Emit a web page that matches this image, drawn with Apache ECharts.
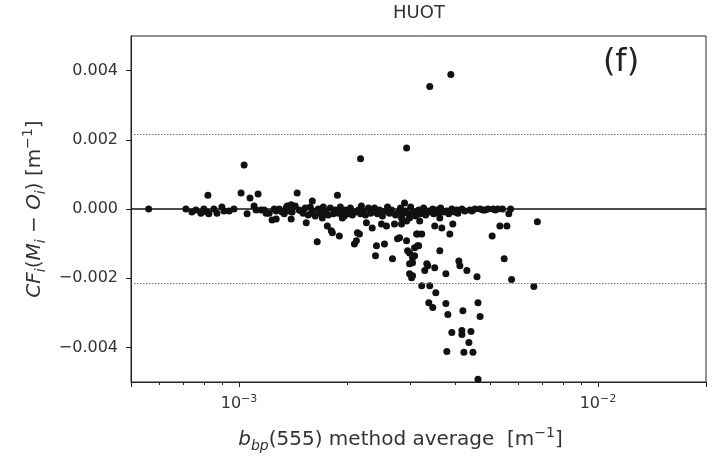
<!DOCTYPE html>
<html>
<head>
<meta charset="utf-8">
<script src="https://cdn.jsdelivr.net/npm/echarts@6/dist/echarts.min.js"></script>
<style>
  html, body { margin: 0; padding: 0; background: #fff; }
  #chart { width: 721px; height: 459px; }
</style>
</head>
<body>
<div id="chart"></div>
<script>
// b_bp(555) method average [m^-1]
var bbpAvg = [
  0.00056, 0.000711, 0.000739, 0.000758, 0.000783, 0.000798, 0.000814, 0.000824, 0.000819, 0.000851,
  0.000868, 0.000896, 0.000908, 0.000938, 0.000968, 0.001013, 0.001033, 0.001053, 0.001073, 0.001101,
  0.001116, 0.00113, 0.001152, 0.001175, 0.00119, 0.001213, 0.001236, 0.001253, 0.001269, 0.001269,
  0.001294, 0.001319, 0.001336, 0.001353, 0.001362, 0.001379, 0.001397, 0.001397, 0.001406, 0.001434,
  0.001452, 0.001471, 0.00149, 0.00151, 0.001529, 0.001539, 0.001559, 0.001579, 0.001589, 0.0016,
  0.00161, 0.001631, 0.001651, 0.001663, 0.001684, 0.001706, 0.001717, 0.00174, 0.001762, 0.001773,
  0.001796, 0.001808, 0.00182, 0.001831, 0.001855, 0.001867, 0.00188, 0.001891, 0.001903, 0.001915,
  0.00194, 0.001952, 0.001965, 0.001978, 0.002016, 0.002029, 0.002043, 0.002069, 0.002096, 0.00211,
  0.002123, 0.002137, 0.002151, 0.002165, 0.002179, 0.00218, 0.002192, 0.002222, 0.00225, 0.002264,
  0.002294, 0.002323, 0.00235, 0.002369, 0.002384, 0.0024, 0.002415, 0.00243, 0.002462, 0.002494,
  0.002509, 0.002542, 0.002558, 0.002575, 0.002592, 0.002625, 0.00266, 0.002676, 0.002711, 0.002729,
  0.002764, 0.002782, 0.0028, 0.002818, 0.002836, 0.002836, 0.002873, 0.002891, 0.002911, 0.002929,
  0.002929, 0.00293, 0.002948, 0.002967, 0.002986, 0.002986, 0.002986, 0.002986, 0.003006, 0.003025,
  0.003044, 0.003044, 0.003044, 0.003064, 0.003084, 0.003084, 0.003104, 0.003124, 0.003145, 0.003145,
  0.003166, 0.003166, 0.003187, 0.003187, 0.003207, 0.003228, 0.003228, 0.003267, 0.003292, 0.003292,
  0.003311, 0.003335, 0.003356, 0.003375, 0.003378, 0.003399, 0.003399, 0.003418, 0.003465, 0.003465,
  0.003485, 0.00351, 0.00351, 0.003533, 0.003556, 0.003599, 0.003626, 0.003626, 0.003646, 0.003673,
  0.003717, 0.003769, 0.003769, 0.003793, 0.003793, 0.003817, 0.003839, 0.003866, 0.003891, 0.003916,
  0.003916, 0.003941, 0.003993, 0.004043, 0.004071, 0.004097, 0.004123, 0.004177, 0.004177, 0.004177,
  0.004204, 0.004231, 0.004258, 0.004313, 0.004369, 0.004398, 0.004427, 0.004455, 0.004484, 0.004543,
  0.004602, 0.004632, 0.004632, 0.004694, 0.004694, 0.004785, 0.004849, 0.004942, 0.005072, 0.005105,
  0.005173, 0.005262, 0.00533, 0.00542, 0.005479, 0.005576, 0.005643, 0.005711, 0.005746, 0.006627,
  0.00678
];
// CF_i(M_i - O_i) [m^-1]
var cfDiff = [
  0, 0, -0.00009, -0.00003, -0.00012, 0, -0.00009, -0.00014, 0.0004, 0,
  -0.00012, 0.00006, -0.00006, -0.00006, 0, 0.00046, 0.00127, -0.00014, 0.00032, 0.00009,
  -0.00003, 0.00043, -0.00003, -0.00003, -0.00012, -0.00012, -0.00032, 0, -0.00006, -0.00029,
  0, -0.00009, -0.00014, 0.00003, 0.00009, -0.00006, -0.00029, 0.00012, -0.00009, 0.00009,
  0.00046, -0.00003, -0.00006, -0.00012, 0.00003, -0.0004, -0.00017, 0.00006, -0.00012, 0.00023,
  -0.00006, -0.0002, -0.00095, 0, -0.00012, -0.00026, 0.00006, -0.00009, -0.00049, -0.00017,
  0.00003, -0.00063, -0.00069, -0.00014, -0.00003, -0.00006, 0.0004, -0.00012, -0.00078, 0.00006,
  -0.00026, -0.00009, -0.0002, -0.00003, -0.00014, -0.00006, 0.00003, -0.00017, -0.00101, -0.00009,
  -0.00092, -0.00069, -0.00003, -0.00072, -0.00014, 0.00145, 0.00009, -0.00006, -0.00017, -0.0004,
  0.00003, -0.00012, -0.00055, -0.00009, 0.00003, -0.00135, -0.00106, -0.00014, -0.00003, -0.00043,
  -0.0002, -0.00101, -0.00006, -0.00049, 0.00006, -0.00012, -0.00003, -0.00144, -0.00043, -0.00017,
  -0.00086, -0.00009, -0.00083, 0.00003, -0.00026, -0.00043, -0.00012, 0.00017, -0.00006, -0.00035,
  -0.00092, 0.00176, -0.00121, -0.00014, -0.00187, -0.00026, -0.00158, -0.00127, 0.00006, -0.00199,
  -0.00155, -0.00141, -0.00193, -0.00009, -0.00135, -0.00112, -0.0002, -0.00072, -0.00106, -0.00072,
  -0.00106, -0.00003, -0.00014, -0.00035, -0.00012, -0.00072, -0.00222, 0.00003, -0.00012, -0.00178,
  -0.00017, -0.00158, -0.00164, -0.00006, -0.00271, 0.00354, -0.00222, -0.00009, 0, -0.00285,
  -0.00014, -0.00049, -0.0017, -0.00242, -0.00003, -0.00012, -0.00026, -0.00121, 0.00003, -0.00055,
  -0.00009, -0.00187, -0.00273, -0.00006, -0.00412, -0.00305, -0.00014, -0.00072, 0.00389, 0,
  -0.00357, -0.00043, -0.00009, -0.00003, -0.00012, -0.0015, -0.00164, 0, -0.00351, -0.00363,
  -0.00294, -0.00414, -0.00006, -0.00178, -0.00386, -0.00003, -0.00354, -0.00006, -0.00414, 0,
  -0.00196, -0.00271, -0.00492, 0, -0.00311, -0.00003, -0.00003, 0, -0.00078, 0,
  -0.00003, 0, -0.00049, 0, -0.00144, -0.00049, -0.00014, 0, -0.00204, -0.00224,
  -0.00037
];

var xRange = [0.0005, 0.02];
var minorTicks = [0.0006, 0.0007, 0.0008, 0.0009, 0.002, 0.003, 0.004, 0.005, 0.006, 0.007, 0.008, 0.009];
var yTicks = [-0.004, -0.002, 0, 0.002, 0.004];
var zeroLine = 0;
var limitLines = [0.00216, -0.00216];

var points = bbpAvg.map(function (x, i) { return [x, cfDiff[i]]; });

var font = 'DejaVu Sans';
var txt = '#333';

function xLabel(v) {
    var e = Math.round(Math.log(v) / Math.LN10);
    if (Math.abs(Math.log(v) / Math.LN10 - e) > 1e-6) return '';
    return '10{sup|\u2212' + (-e) + '}';
}
function yLabel(v) {
    if (Math.abs(v) < 1e-12) return '0.000';
    return (v < 0 ? '\u2212' : '') + Math.abs(v).toFixed(3);
}
function hLine(y, style) {
    return [{ coord: [xRange[0], y], lineStyle: style }, { coord: [xRange[1], y] }];
}

var nameRich = {
    it: { fontFamily: font, fontSize: 20, fontStyle: 'italic', color: txt, lineHeight: 27 },
    sub: { fontFamily: font, fontSize: 14, fontStyle: 'italic', color: txt, lineHeight: 15, verticalAlign: 'bottom' },
    sup: { fontFamily: font, fontSize: 14, color: txt, lineHeight: 15, verticalAlign: 'top' }
};
var dotted = { color: '#777', width: 1, type: [1.5, 1.5] };

var option = {
    animation: false,
    textStyle: { fontFamily: font },
    grid: {
        left: 131, right: 15, top: 36, bottom: 77,
        show: true, borderColor: '#222', borderWidth: 1
    },
    graphic: [
        { type: 'text', x: 419, y: 4, style: { text: 'HUOT', fontFamily: font, fontSize: 18, fill: txt, textAlign: 'center' } },
        { type: 'text', x: 621, y: 47, style: { text: '(f)', fontFamily: font, fontSize: 32, fill: '#222', textAlign: 'center' } }
    ],
    xAxis: [
        {
            type: 'log',
            logBase: 10,
            min: xRange[0],
            max: xRange[1],
            position: 'bottom',
            name: '{it|b}{sub|bp}(555) method average  [m{sup|\u22121}]',
            nameLocation: 'middle',
            nameGap: 44,
            nameTextStyle: { fontFamily: font, fontSize: 20, color: txt, lineHeight: 27, padding: [0, 36, 0, 0], rich: nameRich },
            axisLine: { show: true, onZero: false, lineStyle: { color: '#222', width: 1 } },
            axisTick: { show: true, inside: false, length: 5, lineStyle: { color: '#222', width: 1 } },
            axisLabel: {
                margin: 12,
                fontSize: 16,
                color: txt,
                lineHeight: 20,
                formatter: xLabel,
                rich: { sup: { fontFamily: font, fontSize: 11, color: txt, lineHeight: 11, verticalAlign: 'top' } }
            },
            splitLine: { show: false },
            minorTick: { show: false }
        },
        {
            type: 'log',
            logBase: 10,
            min: xRange[0],
            max: xRange[1],
            position: 'bottom',
            axisLine: { show: false, onZero: false },
            axisTick: { show: true, inside: false, length: 3, customValues: minorTicks, lineStyle: { color: '#222', width: 1 } },
            axisLabel: { show: false },
            splitLine: { show: false }
        }
    ],
    yAxis: {
        type: 'value',
        min: -0.005,
        max: 0.005,
        name: '{it|CF}{sub|i}({it|M}{sub|i} \u2212 {it|O}{sub|i}) [m{sup|\u22121}]',
        nameLocation: 'middle',
        nameGap: 70,
        nameTextStyle: { fontFamily: font, fontSize: 20, color: txt, lineHeight: 27, rich: nameRich },
        axisLine: { show: true, onZero: false, lineStyle: { color: '#222', width: 1 } },
        axisTick: { show: true, inside: false, length: 5, customValues: yTicks, lineStyle: { color: '#222', width: 1 } },
        axisLabel: { margin: 13, fontSize: 16, color: txt, customValues: yTicks, formatter: yLabel },
        splitLine: { show: false }
    },
    series: [
        {
            type: 'scatter',
            xAxisIndex: 0,
            data: points,
            symbolSize: 7,
            itemStyle: { color: '#111', opacity: 1 },
            z: 3,
            markLine: {
                silent: true,
                symbol: 'none',
                label: { show: false },
                data: [
                    hLine(zeroLine, { color: '#111', width: 1.5, type: 'solid' }),
                    hLine(limitLines[0], dotted),
                    hLine(limitLines[1], dotted)
                ]
            }
        }
    ]
};

var myChart = echarts.init(document.getElementById('chart'));
myChart.setOption(option);
</script>
</body>
</html>
